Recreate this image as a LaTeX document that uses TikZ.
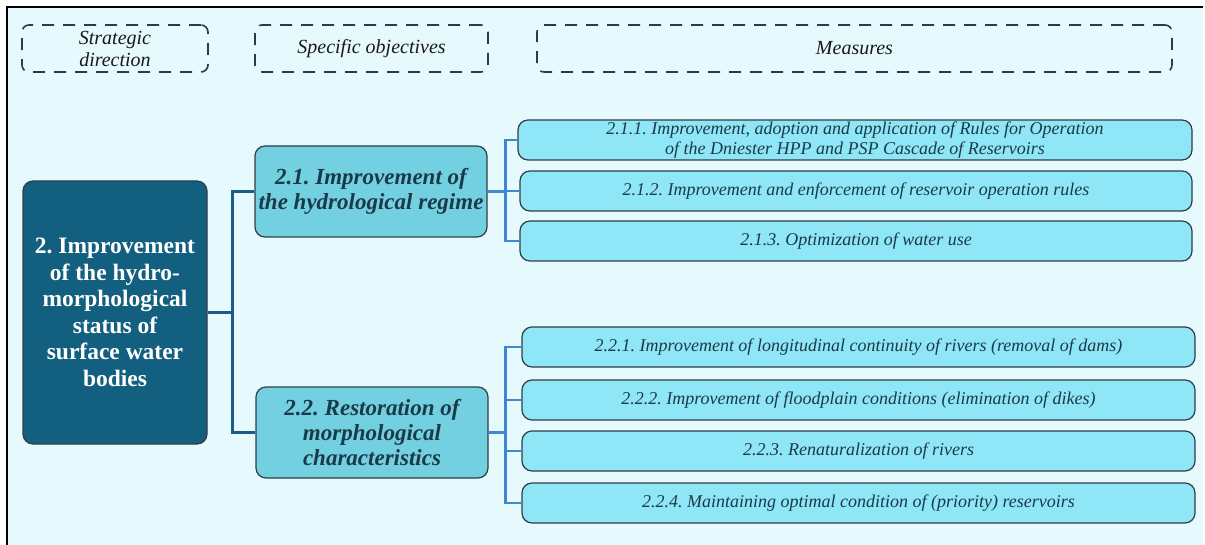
\documentclass[tikz,border=0pt]{standalone}
\usepackage{fontspec}
\setmainfont{Liberation Serif}
\frenchspacing
\definecolor{bgcol}{HTML}{E6FAFD}
\definecolor{dashcol}{HTML}{2A3C4C}
\definecolor{maincol}{HTML}{135F80}
\definecolor{objcol}{HTML}{72D0E0}
\definecolor{meascol}{HTML}{8EE6F6}
\definecolor{edgecol}{HTML}{2F3E46}
\definecolor{darktext}{HTML}{1A3A4A}
\definecolor{linkA}{HTML}{1F5A8C}
\definecolor{linkB}{HTML}{3D88CF}
\begin{document}
\begin{tikzpicture}[x=1pt,y=-1pt,
  headbox/.style={draw=dashcol, line width=1.6pt, dash pattern=on 12pt off 9pt,
    rounded corners=7pt, minimum height=47pt, align=center, inner sep=0pt,
    font=\fontsize{20}{22}\selectfont\itshape, text=black!90},
  mainbox/.style={draw=edgecol, line width=1.2pt, fill=maincol, rounded corners=10pt,
    minimum width=184pt, minimum height=263pt, align=center, text=white, inner sep=0pt,
    font=\fontsize{23.5}{26.5}\selectfont\bfseries},
  objbox/.style={draw=edgecol, line width=1.2pt, fill=objcol, rounded corners=10pt,
    minimum width=232pt, minimum height=91pt, align=center, text=darktext, inner sep=0pt,
    font=\fontsize{23}{25}\selectfont\bfseries\itshape},
  measbox/.style={draw=edgecol, line width=1.2pt, fill=meascol, rounded corners=10pt,
    minimum height=40pt, align=center, text=darktext, inner sep=0pt,
    font=\fontsize{18}{19.5}\selectfont\itshape},
  linkone/.style={draw=linkA, line width=2.6pt},
  linktwo/.style={draw=linkB, line width=2.6pt}
]
\useasboundingbox (0,0) rectangle (1205,545);
% panel background and frame
\fill[bgcol] (7,7) rectangle (1203,545);
\draw[black, line width=1.5pt] (7,545) -- (7,7) -- (1203,7);

% column headings
\node[headbox, minimum width=186pt] (hs) at (115,48.5) {Strategic\\direction};
\node[headbox, minimum width=233pt] (ho) at (371.5,48.5) {Specific objectives};
\node[headbox, minimum width=635pt] (hm) at (854.5,48.5) {Measures};

% strategic direction
\node[mainbox] (s) at (115,312.5) {2. Improvement\\of the hydro-\\morphological\\status of\\surface water\\bodies};

% specific objectives
\node[objbox] (o1) at (371,191.5) {2.1. Improvement of\\the hydrological regime};
\node[objbox] (o2) at (372,432.5) {2.2. Restoration of\\morphological\\characteristics};

% measures
\node[measbox, minimum width=674pt] (m11) at (855,140) {2.1.1. Improvement, adoption and application of Rules for Operation\\of the Dniester HPP and PSP Cascade of Reservoirs};
\node[measbox, minimum width=672pt] (m12) at (856,191) {2.1.2. Improvement and enforcement of reservoir operation rules};
\node[measbox, minimum width=672pt] (m13) at (856,241) {2.1.3. Optimization of water use};
\node[measbox, minimum width=673pt] (m21) at (858.5,347) {2.2.1. Improvement of longitudinal continuity of rivers (removal of dams)};
\node[measbox, minimum width=673pt] (m22) at (858.5,400) {2.2.2. Improvement of floodplain conditions (elimination of dikes)};
\node[measbox, minimum width=673pt] (m23) at (858.5,451) {2.2.3. Renaturalization of rivers};
\node[measbox, minimum width=673pt] (m24) at (858.5,503) {2.2.4. Maintaining optimal condition of (priority) reservoirs};

% links: direction to objectives
\coordinate (ja) at ([xshift=25pt]s.east);
\draw[linkone] (s.east) -- (ja);
\draw[linkone] (ja) |- (o1.west);
\draw[linkone] (ja) |- (o2.west);

% links: objectives to measures
\coordinate (jb) at ([xshift=18pt]o1.east);
\draw[linktwo] (o1.east) -- (jb);
\foreach \m in {m11,m12,m13} \draw[linktwo] (jb) |- (\m.west);
\coordinate (jc) at ([xshift=17pt]o2.east);
\draw[linktwo] (o2.east) -- (jc);
\foreach \m in {m21,m22,m23,m24} \draw[linktwo] (jc) |- (\m.west);
\end{tikzpicture}
\end{document}
